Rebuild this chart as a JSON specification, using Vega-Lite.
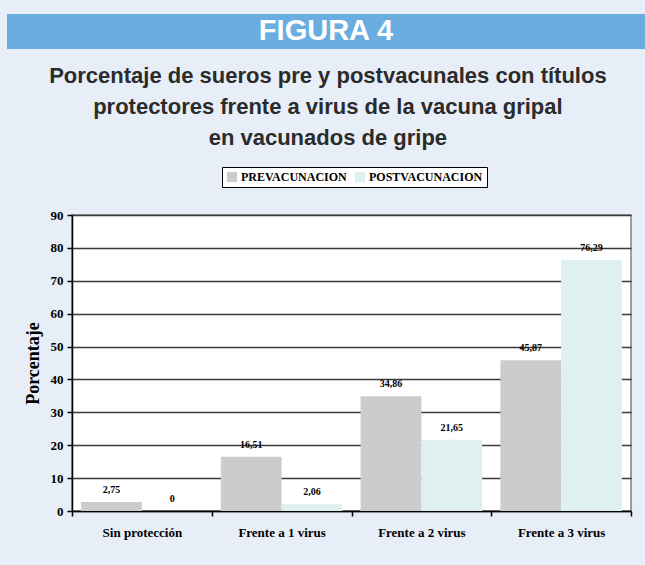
{
  "$schema": "https://vega.github.io/schema/vega-lite/v6.json",
  "background": "#E7EEF8",
  "padding": {"left": 7, "top": 14, "right": 0, "bottom": 30},
  "spacing": 15,
  "config": {
    "locale": {"number": {"decimal": ",", "thousands": ".", "grouping": [3], "currency": ["", " €"]}},
    "view": {"stroke": null}
  },
  "vconcat": [
    {
      "width": 638,
      "height": 35,
      "view": {"fill": "#6AADE0", "stroke": null},
      "data": {"values": [{"label": "FIGURA 4"}]},
      "mark": {"type": "text", "font": "Liberation Sans", "fontWeight": "bold", "fontSize": 29, "color": "#FFFFFF", "baseline": "middle", "align": "center", "dy": -1},
      "encoding": {"text": {"field": "label"}}
    },
    {
      "spacing": 0,
      "hconcat": [
        {
          "width": 16,
          "height": 10,
          "view": {"stroke": null},
          "data": {"values": [{"label": ""}]},
          "mark": {"type": "text"},
          "encoding": {"text": {"field": "label"}}
        },
        {
          "width": 559,
          "height": 296,
          "view": {"fill": "#FFFFFF", "stroke": "#808080", "strokeWidth": 1.5},
          "title": {
            "text": ["Porcentaje de sueros pre y postvacunales con títulos", "protectores frente a virus de la vacuna gripal", "en vacunados de gripe"],
            "font": "Liberation Sans",
            "fontSize": 22,
            "fontWeight": "bold",
            "color": "#2B2B2B",
            "lineHeight": 31,
            "anchor": "middle",
            "frame": "bounds",
            "offset": 59
          },
          "data": {
            "values": [
              {"grupo": "Sin protección", "serie": "PREVACUNACION", "valor": 2.75},
              {"grupo": "Sin protección", "serie": "POSTVACUNACION", "valor": 0},
              {"grupo": "Frente a 1 virus", "serie": "PREVACUNACION", "valor": 16.51},
              {"grupo": "Frente a 1 virus", "serie": "POSTVACUNACION", "valor": 2.06},
              {"grupo": "Frente a 2 virus", "serie": "PREVACUNACION", "valor": 34.86},
              {"grupo": "Frente a 2 virus", "serie": "POSTVACUNACION", "valor": 21.65},
              {"grupo": "Frente a 3 virus", "serie": "PREVACUNACION", "valor": 45.87},
              {"grupo": "Frente a 3 virus", "serie": "POSTVACUNACION", "valor": 76.29}
            ]
          },
          "encoding": {
            "x": {
              "field": "grupo",
              "type": "nominal",
              "sort": ["Sin protección", "Frente a 1 virus", "Frente a 2 virus", "Frente a 3 virus"],
              "scale": {"paddingInner": 0, "paddingOuter": 0},
              "axis": {
                "title": null,
                "labelAngle": 0,
                "labelFont": "Liberation Serif",
                "labelFontWeight": "bold",
                "labelFontSize": 13,
                "labelColor": "#000000",
                "labelPadding": 10,
                "tickBand": "extent",
                "tickSize": 5,
                "tickColor": "#000000",
                "tickWidth": 1.5,
                "domainColor": "#000000",
                "domainWidth": 1.5,
                "grid": false
              }
            },
            "xOffset": {
              "field": "serie",
              "type": "nominal",
              "sort": ["PREVACUNACION", "POSTVACUNACION"],
              "scale": {"paddingInner": 0, "paddingOuter": 0.15}
            },
            "y": {
              "field": "valor",
              "type": "quantitative",
              "scale": {"domain": [0, 90], "nice": false},
              "axis": {
                "title": "Porcentaje",
                "titleFont": "Liberation Serif",
                "titleFontWeight": "bold",
                "titleFontSize": 18,
                "titleColor": "#000000",
                "titlePadding": 8,
                "values": [0, 10, 20, 30, 40, 50, 60, 70, 80, 90],
                "format": "d",
                "labelFont": "Liberation Serif",
                "labelFontWeight": "bold",
                "labelFontSize": 13,
                "labelColor": "#000000",
                "labelPadding": 4,
                "tickSize": 5,
                "tickColor": "#000000",
                "tickWidth": 1.5,
                "domainColor": "#000000",
                "domainWidth": 1.5,
                "grid": true,
                "gridColor": "#3A3A3A",
                "gridWidth": 1.5
              }
            }
          },
          "layer": [
            {
              "mark": {"type": "bar"},
              "encoding": {
                "color": {
                  "field": "serie",
                  "type": "nominal",
                  "sort": ["PREVACUNACION", "POSTVACUNACION"],
                  "scale": {"domain": ["PREVACUNACION", "POSTVACUNACION"], "range": ["#CCCCCC", "#DFF0F0"]},
                  "legend": {
                    "title": null,
                    "orient": "none",
                    "legendX": 215,
                    "legendY": 153,
                    "direction": "horizontal",
                    "fillColor": "#FFFFFF",
                    "strokeColor": "#000000",
                    "padding": 4,
                    "symbolType": "square",
                    "symbolSize": 100,
                    "symbolStrokeWidth": 0,
                    "symbolOpacity": 1,
                    "labelFont": "Liberation Serif",
                    "labelFontWeight": "bold",
                    "labelFontSize": 12,
                    "labelColor": "#000000",
                    "labelOffset": 3,
                    "columnPadding": 7
                  }
                }
              }
            },
            {
              "mark": {"type": "text", "font": "Liberation Serif", "fontWeight": "bold", "fontSize": 10, "color": "#000000", "baseline": "alphabetic", "dy": -9},
              "encoding": {
                "text": {"field": "valor", "type": "quantitative", "format": ".2~f"}
              }
            }
          ]
        }
      ]
    }
  ]
}
